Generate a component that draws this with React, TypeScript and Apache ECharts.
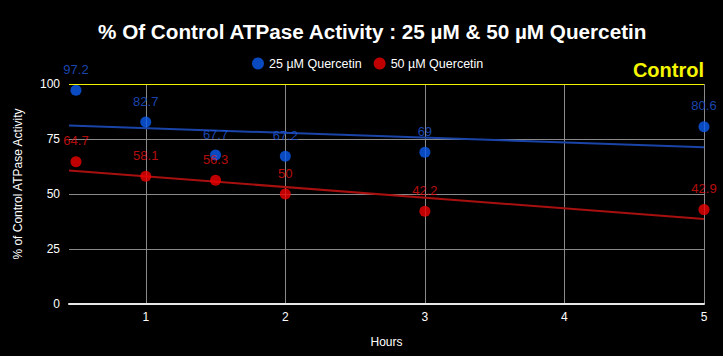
import React, { useEffect, useRef } from "react";
import * as echarts from "echarts";

const hours = [0.5, 1, 1.5, 2, 3, 5];
const q25Values = [97.2, 82.7, 67.7, 67.2, 69, 80.6];
const q50Values = [64.7, 58.1, 56.3, 50, 42.2, 42.9];
// trendline endpoints
const trendHours = [0.45, 5];
const trend25 = [81.1, 71.3];
const trend50 = [60.7, 38.6];
const yTicks = [0, 25, 50, 75, 100];
const controlLevel = 100;

const BLUE = "#0b5cf0";
const RED = "#f00000";
const FONT = "'Liberation Sans', Arial, sans-serif";

export default function App() {
  const ref = useRef<HTMLDivElement>(null);
  useEffect(() => {
    if (!ref.current) return;
    const chart = echarts.init(ref.current, null, { renderer: "svg" });
    const pts = (xs: number[], ys: number[]) => xs.map((x, i) => [x, ys[i]]);
    chart.setOption({
      animation: false,
      backgroundColor: "#000000",
      textStyle: { fontFamily: FONT },
      title: {
        text: "% Of Control ATPase Activity : 25 µM & 50 µM Quercetin",
        left: 93,
        top: 16,
        textStyle: {
          color: "#ffffff",
          fontSize: 20.7,
          fontWeight: "bold",
          fontFamily: FONT,
        },
      },
      legend: {
        top: 52,
        left: 247,
        itemWidth: 12,
        itemHeight: 12,
        itemGap: 12,
        textStyle: { color: "#ffffff", fontSize: 12.5, fontFamily: FONT },
        data: [
          { name: "25 µM Quercetin", icon: "circle" },
          { name: "50 µM Quercetin", icon: "circle" },
        ],
      },
      grid: { left: 69, right: 19, top: 84, bottom: 52 },
      xAxis: {
        type: "value",
        min: 0.45,
        max: 5,
        name: "Hours",
        nameLocation: "middle",
        nameGap: 32,
        nameTextStyle: { color: "#ffffff", fontSize: 12 },
        axisLine: { show: true, lineStyle: { color: "#e8e8e8", width: 2 } },
        axisTick: { show: false },
        axisLabel: { color: "#ffffff", fontSize: 12, margin: 7, showMinLabel: false },
        splitLine: { show: true, showMinLine: false, lineStyle: { color: "#8a8a8a", width: 1 } },
      },
      yAxis: {
        type: "value",
        min: yTicks[0],
        max: yTicks[yTicks.length - 1],
        interval: 25,
        name: "% of Control ATPase Activity",
        nameLocation: "middle",
        nameGap: 45,
        nameTextStyle: { color: "#ffffff", fontSize: 12, padding: [0, 0, 0, 20] },
        axisLine: { show: false },
        axisTick: { show: false },
        axisLabel: { color: "#ffffff", fontSize: 12, margin: 9 },
        splitLine: { show: true, lineStyle: { color: "#8a8a8a", width: 1 } },
      },
      series: [
        {
          name: "trend25",
          type: "line",
          data: pts(trendHours, trend25),
          symbol: "none",
          silent: true,
          lineStyle: { color: "#1a44a8", width: 2 },
          z: 1,
        },
        {
          name: "trend50",
          type: "line",
          data: pts(trendHours, trend50),
          symbol: "none",
          silent: true,
          lineStyle: { color: "#a81010", width: 2 },
          z: 1,
          markLine: {
            silent: true,
            symbol: "none",
            lineStyle: { color: "#f2f200", width: 1, type: "solid" },
            label: {
              show: true,
              position: "insideEndTop",
              formatter: "Control",
              color: "#f5f500",
              fontSize: 20,
              fontWeight: "bold",
              distance: [0, 4],
              fontFamily: FONT,
            },
            data: [{ yAxis: controlLevel }],
          },
        },
        {
          name: "25 µM Quercetin",
          type: "scatter",
          data: pts(hours, q25Values),
          symbol: "circle",
          symbolSize: 11,
          itemStyle: { color: BLUE },
          label: { show: true, position: "top", distance: 9, color: "#2058dc", fontSize: 13 },
          z: 3,
        },
        {
          name: "50 µM Quercetin",
          type: "scatter",
          data: pts(hours, q50Values),
          symbol: "circle",
          symbolSize: 11,
          itemStyle: { color: RED },
          label: { show: true, position: "top", distance: 9, color: "#e41212", fontSize: 13 },
          z: 3,
        },
      ],
    });
    return () => chart.dispose();
  }, []);
  return <div ref={ref} style={{ width: 723, height: 356, position: "absolute", left: 0, top: 0 }} />;
}
